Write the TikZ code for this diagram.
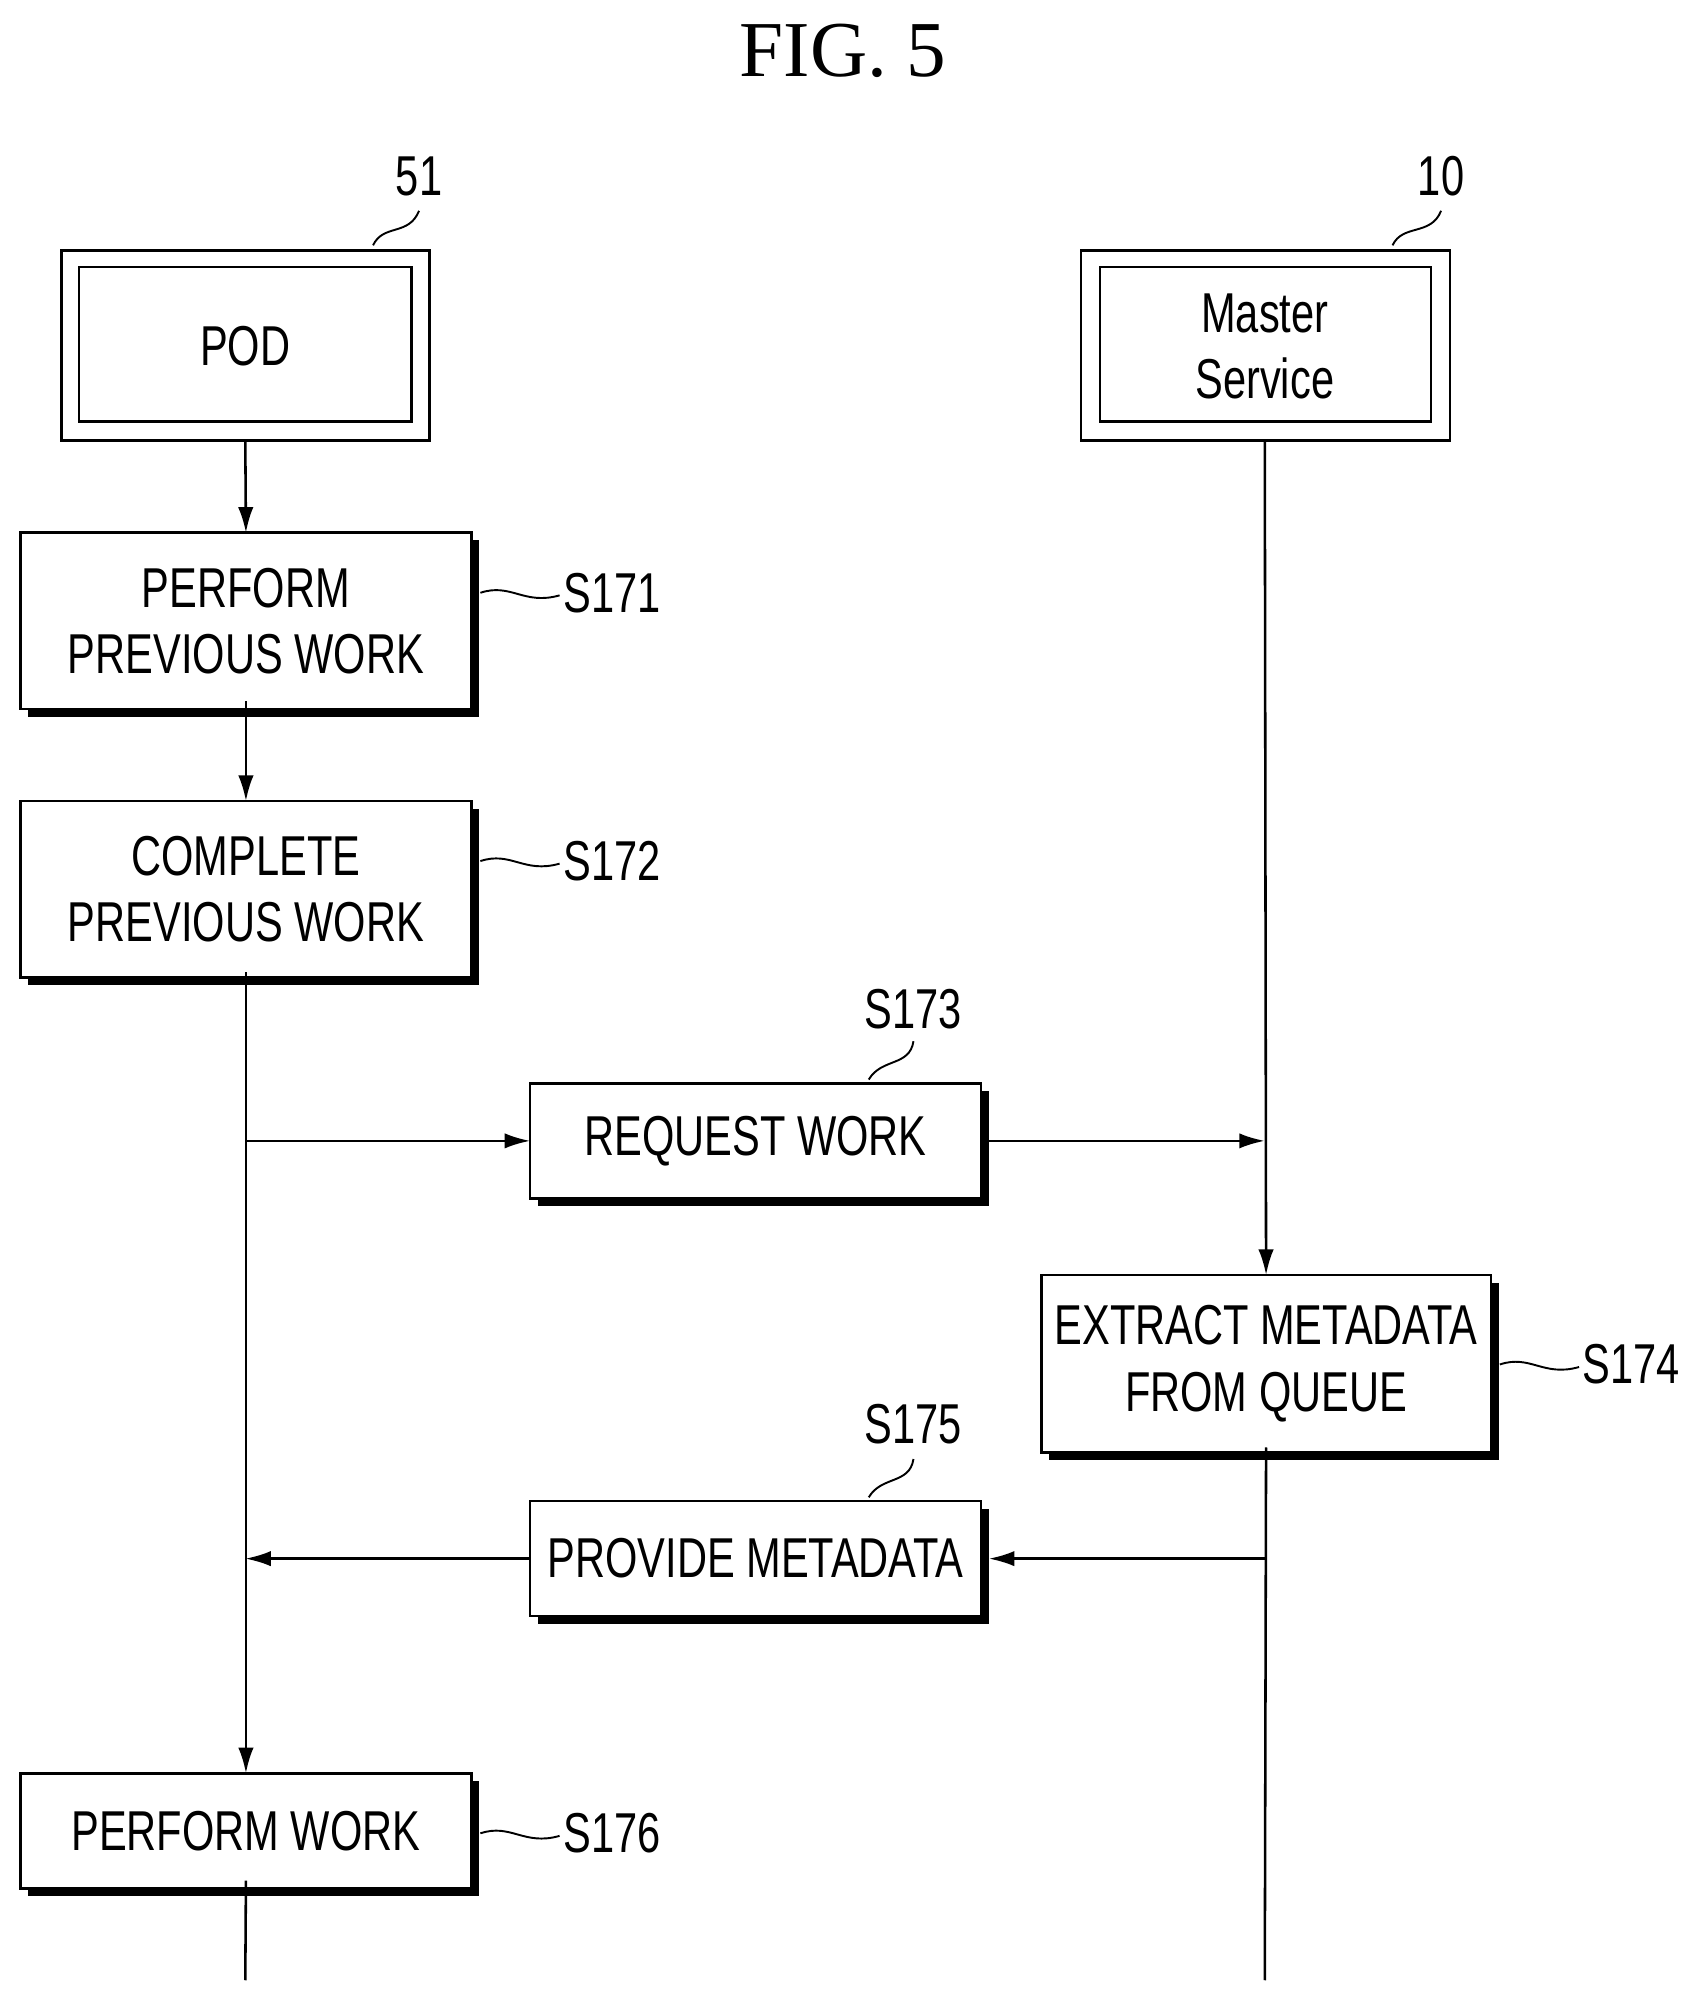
\documentclass[tikz,border=0pt]{standalone}
\usepackage{fontspec}
\setmainfont{Liberation Serif}
\newfontfamily\nf[FakeStretch=0.74]{Liberation Sans}
\usetikzlibrary{arrows.meta}
\begin{document}
\begin{tikzpicture}[x=1pt,y=-1pt,line width=2pt,
  txt/.style={font=\nf\fontsize{44}{50}\selectfont,align=center,inner sep=0},
  lbl/.style={font=\nf\fontsize{44}{50}\selectfont,inner sep=0},
  arr/.style={-{Latex[length=20pt,width=12pt]}},
  sq/.style={line width=1.5pt}]
\useasboundingbox (0,0) rectangle (1330,1560);
\node[font=\fontsize{62}{70}\selectfont] (title) at (660,40) {FIG. 5};
\newcommand\shbox[5]{%
  \fill (#1+6,#2+6) rectangle (#3+6,#4+6);
  \draw[fill=white] (#1,#2) rectangle (#3,#4);
  \node[txt] (#5) at ({(#1+#3)/2},{(#2+#4)/2}) {};
  \coordinate (#5-n) at ({(#1+#3)/2},#2);
  \coordinate (#5-s) at ({(#1+#3)/2},#4);
  \coordinate (#5-w) at (#1,{(#2+#4)/2});
  \coordinate (#5-e) at (#3,{(#2+#4)/2});}
% POD
\draw (48,196) rectangle (336,345);
\draw (62,209) rectangle (322,330);
\node[txt] (pod) at (192,271) {POD};
\coordinate (pod-s) at (192,345);
\node[lbl] (l51) at (328,138) {51};
\draw[sq] (292,192) .. controls (300,175) and (320,185) .. (328,165);
% Master
\draw (846,196) rectangle (1135,345);
\draw (861,209) rectangle (1120,330);
\node[txt] (ms) at (990,271) {Master\\[2pt]Service};
\coordinate (ms-s) at (990,345);
\node[lbl] (l10) at (1128,138) {10};
\draw[sq] (1090,192) .. controls (1098,175) and (1120,185) .. (1128,165);
% boxes
\shbox{16}{417}{369}{555}{a}
\node[txt] at (a) {PERFORM\\[2pt]PREVIOUS WORK};
\shbox{16}{627}{369}{765}{b}
\node[txt] at (b) {COMPLETE\\[2pt]PREVIOUS WORK};
\shbox{415}{848}{768}{938}{c}
\node[txt] at (c) {REQUEST WORK};
\shbox{815}{998}{1167}{1137}{d}
\node[txt] at (d) {EXTRACT METADATA\\[2pt]FROM QUEUE};
\shbox{415}{1175}{768}{1265}{e}
\node[txt] at (e) {PROVIDE METADATA};
\shbox{16}{1388}{369}{1478}{f}
\node[txt] at (f) {PERFORM WORK};
% step labels
\newcommand\slabel[4]{%
  \node[lbl,anchor=west] (#4) at (#1,#2) {#3};
  \draw[sq] (#1-64,#2) .. controls (#1-40,#2-8) and (#1-30,#2+10) .. (#1-2,#2+2);}
\slabel{440}{464}{S171}{s171}
\slabel{440}{674}{S172}{s172}
\slabel{440}{1435}{S176}{s176}
\slabel{1238}{1068}{S174}{s174}
\node[lbl] (s173) at (715,790) {S173};
\draw[sq] (680,845) .. controls (690,828) and (712,835) .. (715,815);
\node[lbl] (s175) at (715,1115) {S175};
\draw[sq] (680,1172) .. controls (690,1155) and (712,1162) .. (715,1142);
% connectors
\draw[arr] (pod-s) -- (a-n);
\draw[arr] ([yshift=6pt]a-s) -- (b-n);
\coordinate (p1) at (192,893);
\coordinate (p2) at (192,1220);
\coordinate (m1) at (990,893);
\coordinate (m2) at (990,1220);
\draw[arr] ([yshift=4pt]b-s) -- (f-n);
\draw[arr] (p1) -- (c-w);
\draw[arr] ([xshift=6pt]c-e) -- (m1);
\draw[arr] (ms-s) -- (d-n);
\draw ([yshift=4pt]d-s) -- (990,1550);
\draw[arr] (m2) -- ([xshift=6pt]e-e);
\draw[arr] (e-w) -- (p2);
\draw ([yshift=6pt]f-s) -- (192,1550);
\end{tikzpicture}
\end{document}
